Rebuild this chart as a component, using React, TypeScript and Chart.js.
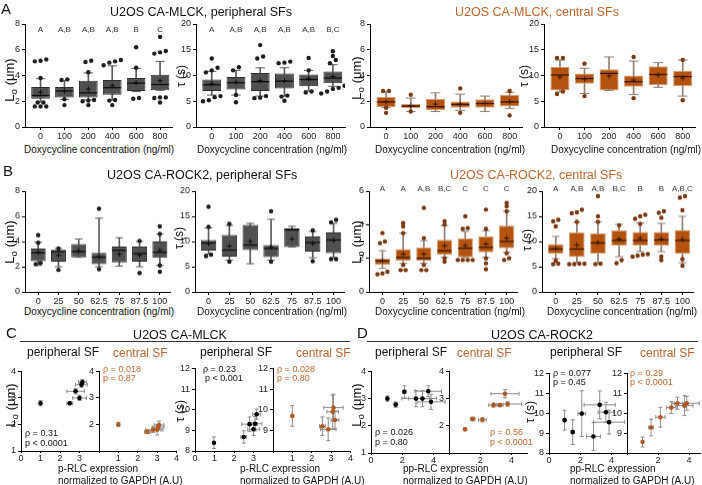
import React, { useEffect, useRef } from 'react';
import { Chart, registerables } from 'chart.js';
Chart.register(...registerables);

const FONT = '"Liberation Sans", Arial, Helvetica, sans-serif';
Chart.defaults.font.family = FONT;
const ORANGE = '#c0642c';

// ---------- categories ----------
const doxMLCK = ['0', '100', '200', '400', '600', '800'];
const doxROCK = ['0', '25', '50', '62.5', '75', '87.5', '100'];

// ---------- A1: L0 peripheral, CA-MLCK ----------
const a1Q1 = [2.2, 2.3, 2.3, 2.5, 2.8, 2.85];
const a1Med = [2.45, 2.8, 2.65, 3.05, 3.4, 3.3];
const a1Q3 = [3.1, 3.1, 3.6, 3.65, 3.8, 4.05];
const a1Mean = [2.7, 2.8, 2.95, 3.2, 3.45, 3.6];
const a1Lo = [1.95, 2.15, 2.1, 2.1, 2.75, 2.85];
const a1Hi = [3.75, 3.6, 4.2, 4.75, 4.55, 5.1];
const a1Out = [[5.25, 5.1, 5.15, 3.8, 1.9, 1.9, 1.6, 1.6, 1.6], [3.7, 3.65, 2.15, 1.7], [5.15, 5.05, 4.25, 2.05, 2.1, 2.0, 1.7], [5.2, 5.0, 5.1, 4.8, 2.1, 2.05, 1.7], [6.2, 4.6, 2.2, 2.25], [7.0, 5.9, 5.7, 5.8, 2.3, 2.3, 2.25, 1.9]];
const a1Letters = ['A', 'A,B', 'A,B', 'A,B', 'B', 'C'];

// ---------- A2: tau peripheral, CA-MLCK ----------
const a2Q1 = [7.0, 7.3, 7.0, 7.5, 7.9, 8.5];
const a2Med = [8.2, 8.6, 8.8, 8.9, 9.2, 9.5];
const a2Q3 = [9.2, 9.7, 10.5, 10.4, 10.2, 10.8];
const a2Mean = [8.4, 8.7, 9.0, 9.0, 9.4, 9.8];
const a2Lo = [6.2, 6.2, 6.0, 6.0, 7.0, 7.9];
const a2Hi = [10.8, 11.0, 11.5, 11.5, 11.0, 12.1];
const a2Out = [[13.3, 11.5, 11.0, 10.6, 6.0, 5.8, 5.2, 5.0], [11.6, 11.0, 6.2, 4.8], [15.9, 13.7, 13.3, 6.0, 5.7, 5.6], [12.7, 12.5, 12.4, 6.1, 5.9, 5.1], [13.4, 11.0, 6.9, 6.7], [14.7, 13.8, 13.0, 12.4, 8.0, 7.6, 7.4, 6.9, 6.5]];
const a2Letters = ['A', 'A,B', 'A,B', 'A,B', 'A,B', 'B,C'];

// ---------- A3: L0 central, CA-MLCK ----------
const a3Q1 = [1.55, 1.45, 1.3, 1.5, 1.5, 1.6];
const a3Med = [1.95, 1.62, 1.58, 1.75, 1.82, 1.95];
const a3Q3 = [2.35, 1.78, 2.2, 1.98, 2.15, 2.5];
const a3Mean = [1.95, 1.65, 1.78, 1.78, 1.85, 1.97];
const a3Lo = [1.5, 1.2, 1.2, 1.3, 1.2, 1.45];
const a3Hi = [2.75, 2.25, 2.65, 2.55, 2.4, 2.7];
const a3Out = [[2.8, 2.8, 1.5, 1.1], [2.5, 1.2], [], [3.0, 1.1], [], [2.8, 0.9]];

// ---------- A4: tau central, CA-MLCK ----------
const a4Q1 = [7.1, 8.4, 7.1, 7.8, 8.1, 7.9];
const a4Med = [10.1, 9.4, 10.4, 8.8, 10.2, 9.8];
const a4Q3 = [11.7, 10.4, 11.2, 10.0, 11.8, 10.9];
const a4Mean = [9.7, 9.3, 9.9, 9.1, 10.1, 9.5];
const a4Lo = [6.8, 6.5, 7.1, 6.3, 7.7, 6.0];
const a4Hi = [13.0, 11.4, 13.6, 12.8, 12.5, 13.0];
const a4Out = [[13.4, 13.4, 6.9, 6.4], [12.3, 6.0], [], [13.6, 5.6], [], [13.0, 5.2]];

// ---------- B1: L0 peripheral, CA-ROCK2 ----------
const b1Q1 = [2.45, 2.4, 2.75, 2.2, 2.35, 2.4, 2.7];
const b1Med = [3.1, 3.2, 3.2, 2.75, 3.3, 3.05, 3.15];
const b1Q3 = [3.45, 3.35, 3.8, 3.1, 3.6, 3.6, 4.0];
const b1Mean = [3.15, 2.9, 3.25, 2.8, 3.0, 2.9, 3.3];
const b1Lo = [2.1, 2.0, 2.75, 2.0, 2.05, 2.0, 2.1];
const b1Hi = [3.95, 3.45, 4.2, 5.85, 4.3, 4.0, 4.6];
const b1Out = [[4.5, 3.9, 2.2, 2.3], [3.45, 1.75], [], [6.6, 1.8], [], [4.05, 1.5], [5.2, 4.6, 2.1, 1.6]];

// ---------- B2: tau peripheral, CA-ROCK2 ----------
const b2Q1 = [8.2, 7.0, 8.3, 6.9, 8.9, 8.0, 7.7];
const b2Med = [9.7, 8.3, 9.3, 8.6, 12.3, 9.8, 10.3];
const b2Q3 = [10.3, 11.3, 13.3, 9.3, 12.6, 11.0, 11.8];
const b2Mean = [9.6, 9.1, 10.0, 8.9, 10.5, 9.6, 10.2];
const b2Lo = [7.5, 6.3, 5.6, 6.3, 8.9, 6.8, 6.8];
const b2Hi = [12.7, 13.2, 13.6, 14.4, 13.0, 12.0, 13.6];
const b2Out = [[16.9, 12.9, 7.4, 7.1], [13.5, 6.0], [], [16.0, 6.0], [], [12.2, 6.1], [14.3, 13.8, 6.5, 6.5]];

// ---------- B3: L0 central, CA-ROCK2 ----------
const b3Q1 = [1.6, 1.85, 1.85, 2.2, 2.05, 2.35, 2.6];
const b3Med = [1.85, 2.05, 2.0, 2.45, 2.6, 2.65, 3.0];
const b3Q3 = [2.0, 2.55, 2.65, 3.1, 3.2, 3.3, 3.95];
const b3Mean = [1.85, 2.25, 2.25, 2.75, 2.75, 2.85, 3.2];
const b3Lo = [1.4, 1.7, 1.7, 2.05, 2.05, 2.05, 2.35];
const b3Hi = [2.45, 3.5, 3.05, 3.95, 3.6, 3.65, 4.8];
const b3Out = [[3.5, 3.0, 2.9, 1.2, 1.1, 1.05], [4.1, 3.9, 3.5, 1.6, 1.3, 1.3], [5.0, 3.2, 1.6, 1.3, 1.3], [4.2, 4.0, 2.0, 1.8], [4.5, 3.8, 3.75, 1.9, 1.9, 1.9, 1.9], [4.9, 3.75, 2.0, 1.7, 1.35], [5.3, 5.1, 4.8, 2.3, 2.0, 1.9]];
const b3Letters = ['A', 'A', 'A,B', 'B,C', 'C', 'C', 'C'];

// ---------- B4: tau central, CA-ROCK2 ----------
const b4Q1 = [7.6, 6.9, 7.6, 9.2, 9.2, 9.2, 7.6];
const b4Med = [8.5, 8.5, 9.7, 10.2, 10.2, 10.3, 10.2];
const b4Q3 = [9.5, 11.8, 11.6, 12.2, 11.9, 11.9, 12.3];
const b4Mean = [8.6, 9.3, 9.8, 10.5, 10.6, 10.5, 10.4];
const b4Lo = [6.6, 5.8, 5.6, 7.0, 8.0, 8.0, 5.8];
const b4Hi = [11.0, 13.8, 13.9, 13.4, 13.7, 13.6, 15.0];
const b4Out = [[14.3, 14.0, 13.0, 6.2, 5.5, 5.6], [16.3, 15.8, 15.6, 13.9, 5.6, 5.5, 5.5, 5.6], [19.0, 15.0, 13.9, 5.6, 5.5], [13.2, 6.3, 5.7], [15.3, 15.0, 14.5, 13.5, 7.4, 7.2, 7.0, 7.5], [16.0, 15.7, 14.7, 7.0, 6.3], [19.0, 18.7, 16.2, 6.5, 5.2]];
const b4Letters = ['A', 'A,B', 'A,B', 'B,C', 'B', 'B', 'A,B,C'];

// ---------- C: vs p-RLC (CA-MLCK) ----------
const c1pX = [1.0, 2.5, 2.8, 3.0, 3.1, 3.15];
const c1pY = [2.8, 2.8, 3.25, 3.0, 3.5, 3.6];
const c1pXe = [0.03, 0.15, 0.45, 0.35, 0.3, 0.2];
const c1pYe = [0.1, 0.06, 0.1, 0.1, 0.1, 0.1];
const c1cX = [1.0, 2.5, 2.8, 3.0, 3.05, 3.1];
const c1cY = [2.0, 1.72, 1.8, 1.8, 1.9, 1.98];
const c1cXe = [0.03, 0.15, 0.4, 0.3, 0.3, 0.25];
const c1cYe = [0.08, 0.06, 0.1, 0.2, 0.1, 0.15];
const c2pX = [0.97, 2.5, 2.8, 3.0, 3.08, 3.16];
const c2pY = [8.4, 8.68, 9.3, 9.05, 9.32, 9.78];
const c2pXe = [0.03, 0.15, 0.4, 0.3, 0.35, 0.2];
const c2pYe = [0.28, 0.3, 0.35, 0.3, 0.35, 0.25];
const c2cX = [1.0, 2.55, 2.85, 3.08, 3.12, 3.2];
const c2cY = [9.7, 9.2, 9.05, 9.9, 10.1, 9.5];
const c2cXe = [0.03, 0.15, 0.4, 0.3, 0.5, 0.2];
const c2cYe = [0.5, 0.45, 0.55, 0.8, 0.65, 0.45];

// ---------- D: vs pp-RLC (CA-ROCK2) ----------
const d1pX = [1.05, 1.58, 2.14, 2.88, 3.3, 3.67, 3.85];
const d1pY = [3.0, 2.78, 3.25, 3.0, 3.0, 3.27, 2.88];
const d1pXe = [0.05, 0.1, 0.1, 0.9, 0.9, 0.85, 0.9];
const d1pYe = [0.1, 0.1, 0.22, 0.3, 0.3, 0.2, 0.28];
const d1cX = [1.03, 1.52, 2.14, 2.85, 3.27, 3.76, 3.59];
const d1cY = [1.87, 2.25, 2.22, 2.76, 2.76, 2.8, 3.18];
const d1cXe = [0.03, 0.15, 0.25, 0.3, 0.2, 0.9, 0.9];
const d1cYe = [0.05, 0.07, 0.08, 0.07, 0.05, 0.08, 0.15];
const d2pX = [1.0, 1.52, 2.1, 2.85, 3.25, 3.65, 3.85];
const d2pY = [9.65, 9.05, 9.98, 8.83, 10.42, 10.05, 9.55];
const d2pXe = [0.05, 0.1, 0.25, 0.45, 1.0, 0.5, 1.0];
const d2pYe = [0.5, 0.62, 1.15, 0.7, 0.7, 0.5, 0.6];
const d2cX = [1.0, 1.55, 2.15, 2.85, 3.25, 3.7, 3.85];
const d2cY = [8.55, 9.28, 9.8, 10.28, 10.5, 10.38, 10.5];
const d2cXe = [0.03, 0.15, 0.3, 0.3, 0.35, 0.55, 0.8];
const d2cYe = [0.25, 0.42, 0.5, 0.3, 0.3, 0.5, 0.35];

// ---------- helpers ----------
type Box = {
  labels: string[]; q1: number[]; med: number[]; q3: number[]; mean: number[]; lo: number[]; hi: number[];
  out: number[][]; letters?: string[]; letterDy?: number; yMax: number; yStep: number; central: boolean; area: number[]; bp: number;
};
const BL = 24, BB = 14, BT = 10, BR = 4;
const XPAD = 0.65;

function spread(vals: number[], span: number): number[] {
  const idx = vals.map((_, i) => i).sort((a, b) => vals[a] - vals[b]);
  const offs = new Array(vals.length).fill(0);
  let i = 0;
  while (i < idx.length) {
    let j = i;
    while (j + 1 < idx.length && vals[idx[j + 1]] - vals[idx[j]] < span) j++;
    const k = j - i + 1;
    for (let m = 0; m < k; m++) offs[idx[i + m]] = (m - (k - 1) / 2) * 0.24;
    i = j + 1;
  }
  return offs;
}

function boxRect(b: Box) {
  const [x0, x1, y0, y1] = b.area;
  return [x0 - BL, y0 - BT, x1 - x0 + BL + BR, y1 - y0 + BT + BB];
}

function boxConfig(b: Box): any {
  const [x0, x1] = b.area;
  const n = b.labels.length;
  const slot = (x1 - x0) / (n - 0.5 + XPAD);
  const boxW = slot * b.bp;
  const fill = b.central ? '#b4530f' : '#505050';
  const edge = b.central ? '#d3a272' : '#2e2e2e';
  const whisk = b.central ? '#8f8078' : '#5c5c5c';
  const dark = b.central ? '#3a1804' : '#0e0e0e';
  const dot = b.central ? '#7a3a12' : '#1e1e1e';
  const pts: any[] = [];
  b.out.forEach((vals, i) => {
    const offs = spread(vals, b.yMax * 0.03);
    vals.forEach((v, k) => pts.push({ x: i + offs[k], y: v }));
  });
  const caps: any[] = [];
  b.lo.forEach((v, i) => { caps.push({ x: i, y: v }); caps.push({ x: i, y: b.hi[i] }); });
  const letters = b.letters;
  const dy = b.letterDy ?? 0;
  const labels = b.labels;
  return {
    type: 'bar',
    data: {
      datasets: [
        { type: 'bar', data: b.lo.map((v, i) => ({ x: i, y: [v, b.hi[i]] })), backgroundColor: whisk, barThickness: 1, grouped: false, order: 6 },
        { type: 'bar', data: b.q1.map((v, i) => ({ x: i, y: [v, b.q3[i]] })), backgroundColor: fill, borderColor: edge, borderWidth: 1, borderSkipped: false, barPercentage: b.bp, categoryPercentage: 1, grouped: false, order: 5 },
        { type: 'scatter', data: caps, pointStyle: 'line', pointRadius: boxW / 4, borderColor: whisk, borderWidth: 1, order: 4 },
        { type: 'scatter', data: b.med.map((v, i) => ({ x: i, y: v })), pointStyle: 'line', pointRadius: boxW / 2 - 0.5, borderColor: dark, borderWidth: 1.3, order: 3 },
        { type: 'scatter', data: b.mean.map((v, i) => ({ x: i, y: v })), pointStyle: 'cross', pointRadius: 2.6, borderColor: dark, borderWidth: 1, order: 2 },
        { type: 'scatter', data: pts, pointStyle: 'circle', pointRadius: 2.2, backgroundColor: dot, borderWidth: 0, order: 1 },
      ],
    },
    options: {
      responsive: false, animation: false, events: [],
      layout: { padding: { top: BT, right: BR, left: 0, bottom: 0 }, autoPadding: false },
      plugins: { legend: { display: false }, tooltip: { enabled: false } },
      scales: {
        x: {
          type: 'linear', min: -XPAD, max: n - 0.5, offset: false,
          afterBuildTicks: (a: any) => { a.ticks = labels.map((_, i) => ({ value: i })); },
          grid: { display: true, drawOnChartArea: false, offset: false, tickLength: 3, color: '#000', tickColor: '#000' },
          border: { color: '#000', width: 1 },
          ticks: { autoSkip: false, maxRotation: 0, color: '#222', font: { size: 9 }, padding: 1, callback: (v: any) => labels[v] ?? '' },
          afterFit: (s: any) => { s.height = BB; },
        },
        y: {
          min: 0, max: b.yMax,
          ticks: { stepSize: b.yStep, color: '#222', font: { size: 9 }, padding: 2 },
          grid: { display: true, drawOnChartArea: false, tickLength: 3, color: '#000', tickColor: '#000' },
          border: { color: '#000', width: 1 },
          afterFit: (s: any) => { s.width = BL; },
        },
      },
    },
    plugins: [{
      id: 'sigLetters',
      afterDatasetsDraw(chart: any) {
        if (!letters) return;
        const ctx = chart.ctx;
        const xs = chart.scales.x;
        ctx.save();
        ctx.font = `8px ${FONT}`;
        ctx.fillStyle = '#333';
        ctx.textAlign = 'center';
        ctx.textBaseline = 'middle';
        letters.forEach((t, i) => ctx.fillText(t, xs.getPixelForValue(i), chart.chartArea.top + dy));
        ctx.restore();
      },
    }],
  };
}

type Sc = {
  x: number[]; y: number[]; xe: number[]; ye: number[]; central: boolean;
  xMax: number; xTicks: number[]; xShow: number[]; yMin: number; yMax: number; yTicks: number[]; yShow: number[]; area: number[];
};
const SL = 16, SB = 12, ST = 6, SR = 2;
function scRect(s: Sc) {
  const [x0, x1, y0, y1] = s.area;
  return [x0 - SL, y0 - ST, x1 - x0 + SL + SR, y1 - y0 + ST + SB];
}
function scConfig(s: Sc): any {
  const col = s.central ? '#b0581e' : '#000';
  const err = '#8c8c8c';
  return {
    type: 'scatter',
    data: { datasets: [{ data: s.x.map((v, i) => ({ x: v, y: s.y[i] })), pointRadius: 2.3, backgroundColor: col, borderWidth: 0 }] },
    options: {
      responsive: false, animation: false, events: [],
      layout: { padding: { top: ST, right: SR, left: 0, bottom: 0 }, autoPadding: false },
      plugins: { legend: { display: false }, tooltip: { enabled: false } },
      scales: {
        x: {
          type: 'linear', min: 0, max: s.xMax,
          afterBuildTicks: (a: any) => { a.ticks = s.xTicks.map((v) => ({ value: v })); },
          ticks: { color: '#222', font: { size: 9 }, padding: 0, maxRotation: 0, autoSkip: false, callback: (v: any) => (s.xShow.includes(v) ? String(v) : '') },
          grid: { display: true, drawOnChartArea: false, tickLength: 2, color: '#000', tickColor: '#000' },
          border: { color: '#000', width: 1 },
          afterFit: (a: any) => { a.height = SB; },
        },
        y: {
          min: s.yMin, max: s.yMax,
          afterBuildTicks: (a: any) => { a.ticks = s.yTicks.map((v) => ({ value: v })); },
          ticks: { color: '#222', font: { size: 9 }, padding: 2, autoSkip: false, callback: (v: any) => (s.yShow.includes(v) ? String(v) : '') },
          grid: { display: true, drawOnChartArea: false, tickLength: 3, color: '#000', tickColor: '#000' },
          border: { color: '#000', width: 1 },
          afterFit: (a: any) => { a.width = SL; },
        },
      },
    },
    plugins: [{
      id: 'errBars',
      beforeDatasetsDraw(chart: any) {
        const ctx = chart.ctx;
        const xs = chart.scales.x, ys = chart.scales.y;
        ctx.save();
        ctx.strokeStyle = err;
        ctx.lineWidth = 1;
        s.x.forEach((xv, i) => {
          const yv = s.y[i];
          const px = xs.getPixelForValue(xv), py = ys.getPixelForValue(yv);
          ctx.beginPath();
          if (s.xe[i] > 0.04) {
            const a = xs.getPixelForValue(xv - s.xe[i]), b = xs.getPixelForValue(xv + s.xe[i]);
            ctx.moveTo(a, py); ctx.lineTo(b, py);
            ctx.moveTo(a, py - 2); ctx.lineTo(a, py + 2);
            ctx.moveTo(b, py - 2); ctx.lineTo(b, py + 2);
          }
          if (s.ye[i] > 0) {
            const a = ys.getPixelForValue(yv - s.ye[i]), b = ys.getPixelForValue(yv + s.ye[i]);
            ctx.moveTo(px, a); ctx.lineTo(px, b);
            ctx.moveTo(px - 2, a); ctx.lineTo(px + 2, a);
            ctx.moveTo(px - 2, b); ctx.lineTo(px + 2, b);
          }
          ctx.stroke();
        });
        ctx.restore();
      },
    }],
  };
}

// ---------- panel specs ----------
const boxes: Box[] = [
  { labels: doxMLCK, q1: a1Q1, med: a1Med, q3: a1Q3, mean: a1Mean, lo: a1Lo, hi: a1Hi, out: a1Out, letters: a1Letters, letterDy: 6, yMax: 8, yStep: 2, central: false, area: [25, 172, 24, 127], bp: 0.78 },
  { labels: doxMLCK, q1: a2Q1, med: a2Med, q3: a2Q3, mean: a2Mean, lo: a2Lo, hi: a2Hi, out: a2Out, letters: a2Letters, letterDy: 6, yMax: 20, yStep: 5, central: false, area: [196, 345, 24, 127], bp: 0.78 },
  { labels: doxMLCK, q1: a3Q1, med: a3Med, q3: a3Q3, mean: a3Mean, lo: a3Lo, hi: a3Hi, out: a3Out, yMax: 8, yStep: 2, central: true, area: [370, 522, 24, 127], bp: 0.78 },
  { labels: doxMLCK, q1: a4Q1, med: a4Med, q3: a4Q3, mean: a4Mean, lo: a4Lo, hi: a4Hi, out: a4Out, yMax: 20, yStep: 5, central: true, area: [544, 695, 24, 127], bp: 0.78 },
  { labels: doxROCK, q1: b1Q1, med: b1Med, q3: b1Q3, mean: b1Mean, lo: b1Lo, hi: b1Hi, out: b1Out, yMax: 8, yStep: 2, central: false, area: [25, 170, 191, 291.5], bp: 0.74 },
  { labels: doxROCK, q1: b2Q1, med: b2Med, q3: b2Q3, mean: b2Mean, lo: b2Lo, hi: b2Hi, out: b2Out, yMax: 20, yStep: 5, central: false, area: [195, 344, 191, 291.5], bp: 0.74 },
  { labels: doxROCK, q1: b3Q1, med: b3Med, q3: b3Q3, mean: b3Mean, lo: b3Lo, hi: b3Hi, out: b3Out, letters: b3Letters, letterDy: -2, yMax: 6, yStep: 2, central: true, area: [369, 517, 191, 291.5], bp: 0.74 },
  { labels: doxROCK, q1: b4Q1, med: b4Med, q3: b4Q3, mean: b4Mean, lo: b4Lo, hi: b4Hi, out: b4Out, letters: b4Letters, letterDy: -2, yMax: 20, yStep: 5, central: true, area: [542, 693, 191, 291.5], bp: 0.74 },
];

const loT = [1, 2, 3, 4];
const tauT = [8, 9, 10, 11, 12];
const scatters: Sc[] = [
  { x: c1pX, y: c1pY, xe: c1pXe, ye: c1pYe, central: false, xMax: 4, xTicks: [0, 1, 2, 3, 4], xShow: [0, 1, 2, 3], yMin: 1, yMax: 4, yTicks: loT, yShow: [1, 2, 3, 4], area: [21, 99, 370, 451] },
  { x: c1cX, y: c1cY, xe: c1cXe, ye: c1cYe, central: true, xMax: 4, xTicks: [0, 1, 2, 3, 4], xShow: [1, 2, 3, 4], yMin: 1, yMax: 4, yTicks: loT, yShow: [2, 3, 4], area: [99, 177, 370, 451] },
  { x: c2pX, y: c2pY, xe: c2pXe, ye: c2pYe, central: false, xMax: 4, xTicks: [0, 1, 2, 3, 4], xShow: [0, 1, 2, 3], yMin: 8, yMax: 12, yTicks: tauT, yShow: [8, 9, 10, 11, 12], area: [195, 273, 367, 451] },
  { x: c2cX, y: c2cY, xe: c2cXe, ye: c2cYe, central: true, xMax: 4, xTicks: [0, 1, 2, 3, 4], xShow: [1, 2, 3, 4], yMin: 8, yMax: 12, yTicks: tauT, yShow: [9, 10, 11, 12], area: [273, 351, 367, 451] },
  { x: d1pX, y: d1pY, xe: d1pXe, ye: d1pYe, central: false, xMax: 5, xTicks: [0, 2, 4], xShow: [0, 2, 4], yMin: 1, yMax: 4, yTicks: loT, yShow: [1, 2, 3, 4], area: [371, 449, 370, 453] },
  { x: d1cX, y: d1cY, xe: d1cXe, ye: d1cYe, central: true, xMax: 5, xTicks: [0, 2, 4], xShow: [2, 4], yMin: 1, yMax: 4, yTicks: loT, yShow: [2, 3, 4], area: [449, 527, 370, 453] },
  { x: d2pX, y: d2pY, xe: d2pXe, ye: d2pYe, central: false, xMax: 5, xTicks: [0, 2, 4], xShow: [0, 2, 4], yMin: 8, yMax: 12, yTicks: tauT, yShow: [8, 9, 10, 11, 12], area: [549, 627, 372, 453] },
  { x: d2cX, y: d2cY, xe: d2cXe, ye: d2cYe, central: true, xMax: 4.7, xTicks: [0, 2, 4], xShow: [2, 4], yMin: 8, yMax: 12, yTicks: tauT, yShow: [9, 10, 11, 12], area: [627, 700, 372, 453] },
];

// ---------- components ----------
function ChartCanvas({ rect, make }: { rect: number[]; make: () => any }) {
  const ref = useRef<HTMLCanvasElement>(null);
  useEffect(() => {
    const c = new Chart(ref.current as HTMLCanvasElement, make());
    return () => c.destroy();
  }, []);
  return (
    <canvas ref={ref} width={rect[2]} height={rect[3]}
      style={{ position: 'absolute', left: rect[0], top: rect[1], width: rect[2], height: rect[3] }} />
  );
}

function T({ x, y, s = 10, c = '#111', align = 'left', children }: any) {
  const tx = align === 'center' ? '-50%' : '0';
  return (
    <div style={{ position: 'absolute', left: x, top: y, transform: `translate(${tx},-50%)`, fontSize: s, color: c, whiteSpace: 'nowrap', lineHeight: 1, fontFamily: FONT }}>
      {children}
    </div>
  );
}

function YT({ x, y, kind }: { x: number; y: number; kind: 'L' | 't' }) {
  return (
    <div style={{ position: 'absolute', left: x, top: y, transform: 'translate(-50%,-50%) rotate(-90deg)', whiteSpace: 'nowrap', fontFamily: FONT, color: '#111', lineHeight: 1, fontSize: kind === 'L' ? 13 : 12 }}>
      {kind === 'L' ? (<span>L<span style={{ fontSize: '0.75em', position: 'relative', top: '0.3em' }}>o</span> (μm)</span>) : <span>τ (s)</span>}
    </div>
  );
}

export default function App() {
  return (
    <div style={{ position: 'absolute', left: 0, top: 0, width: 702, height: 485, background: '#fff', overflow: 'hidden', fontFamily: FONT }}>
      {boxes.map((b, i) => <ChartCanvas key={'b' + i} rect={boxRect(b)} make={() => boxConfig(b)} />)}
      {scatters.map((s, i) => <ChartCanvas key={'s' + i} rect={scRect(s)} make={() => scConfig(s)} />)}

      <T x={1} y={8} s={15}>A</T>
      <T x={3} y={170} s={15}>B</T>
      <T x={6} y={332} s={15}>C</T>
      <T x={357} y={332} s={15}>D</T>

      <T x={110} y={12} s={12.5}>U2OS CA-MLCK, peripheral SFs</T>
      <T x={455} y={12} s={12.5} c={ORANGE}>U2OS CA-MLCK, central SFs</T>
      <T x={107} y={175} s={12.5}>U2OS CA-ROCK2, peripheral SFs</T>
      <T x={450} y={175} s={12.5} c={ORANGE}>U2OS CA-ROCK2, central SFs</T>

      {[99, 272, 450, 626].map((x) => <T key={'da' + x} x={x} y={150} s={10} align="center">Doxycycline concentration (ng/ml)</T>)}
      {[99, 272, 450, 622].map((x) => <T key={'db' + x} x={x} y={312} s={10} align="center">Doxycycline concentration (ng/ml)</T>)}

      <YT x={9} y={80} kind="L" />
      <YT x={181} y={76} kind="t" />
      <YT x={356} y={78} kind="L" />
      <YT x={524} y={76} kind="t" />
      <YT x={9} y={242} kind="L" />
      <YT x={179} y={238} kind="t" />
      <YT x={356} y={242} kind="L" />
      <YT x={527} y={240} kind="t" />
      <YT x={10} y={405} kind="L" />
      <YT x={180} y={411} kind="t" />
      <YT x={356} y={405} kind="L" />
      <YT x={530} y={412} kind="t" />

      <T x={180} y={335} s={12.5} align="center">U2OS CA-MLCK</T>
      <div style={{ position: 'absolute', left: 20, top: 340.5, width: 330, height: 1.5, background: '#333' }} />
      <T x={542} y={335} s={12.5} align="center">U2OS CA-ROCK2</T>
      <div style={{ position: 'absolute', left: 367, top: 340.5, width: 331, height: 1.5, background: '#333' }} />

      <T x={27} y={352} s={12}>peripheral SF</T>
      <T x={113} y={353} s={12} c={ORANGE}>central SF</T>
      <T x={200} y={352} s={12}>peripheral SF</T>
      <T x={296} y={353} s={12} c={ORANGE}>central SF</T>
      <T x={375} y={352} s={12}>peripheral SF</T>
      <T x={457} y={353} s={12} c={ORANGE}>central SF</T>
      <T x={550} y={352} s={12}>peripheral SF</T>
      <T x={640} y={353} s={12} c={ORANGE}>central SF</T>

      <T x={25} y={433} s={9}>ρ = 0.31</T>
      <T x={25} y={443} s={9}>p &lt; 0.0001</T>
      <T x={103} y={369} s={9} c={ORANGE}>ρ = 0.018</T>
      <T x={103} y={378} s={9} c={ORANGE}>p = 0.87</T>
      <T x={203} y={369} s={9}>ρ = 0.23</T>
      <T x={205} y={378} s={9}>p &lt; 0.001</T>
      <T x={277} y={369} s={9} c={ORANGE}>ρ = 0.028</T>
      <T x={277} y={378} s={9} c={ORANGE}>p = 0.80</T>
      <T x={375} y={432} s={9}>ρ = 0.026</T>
      <T x={375} y={442} s={9}>p = 0.80</T>
      <T x={490} y={432} s={9} c={ORANGE}>ρ = 0.56</T>
      <T x={490} y={442} s={9} c={ORANGE}>p &lt; 0.0001</T>
      <T x={553} y={373} s={9}>ρ = 0.077</T>
      <T x={553} y={382} s={9}>p = 0.45</T>
      <T x={630} y={373} s={9} c={ORANGE}>ρ = 0.29</T>
      <T x={630} y={382} s={9} c={ORANGE}>p &lt; 0.0001</T>

      <T x={58} y={469} s={10}>p-RLC expression</T>
      <T x={58} y={481} s={10}>normalized to GAPDH (A.U)</T>
      <T x={240} y={469} s={10}>p-RLC expression</T>
      <T x={240} y={481} s={10}>normalized to GAPDH (A.U)</T>
      <T x={403} y={469} s={10}>pp-RLC expression</T>
      <T x={403} y={481} s={10}>normalized to GAPDH (A.U)</T>
      <T x={570} y={469} s={10}>pp-RLC expression</T>
      <T x={570} y={481} s={10}>normalized to GAPDH (A.U)</T>
    </div>
  );
}
